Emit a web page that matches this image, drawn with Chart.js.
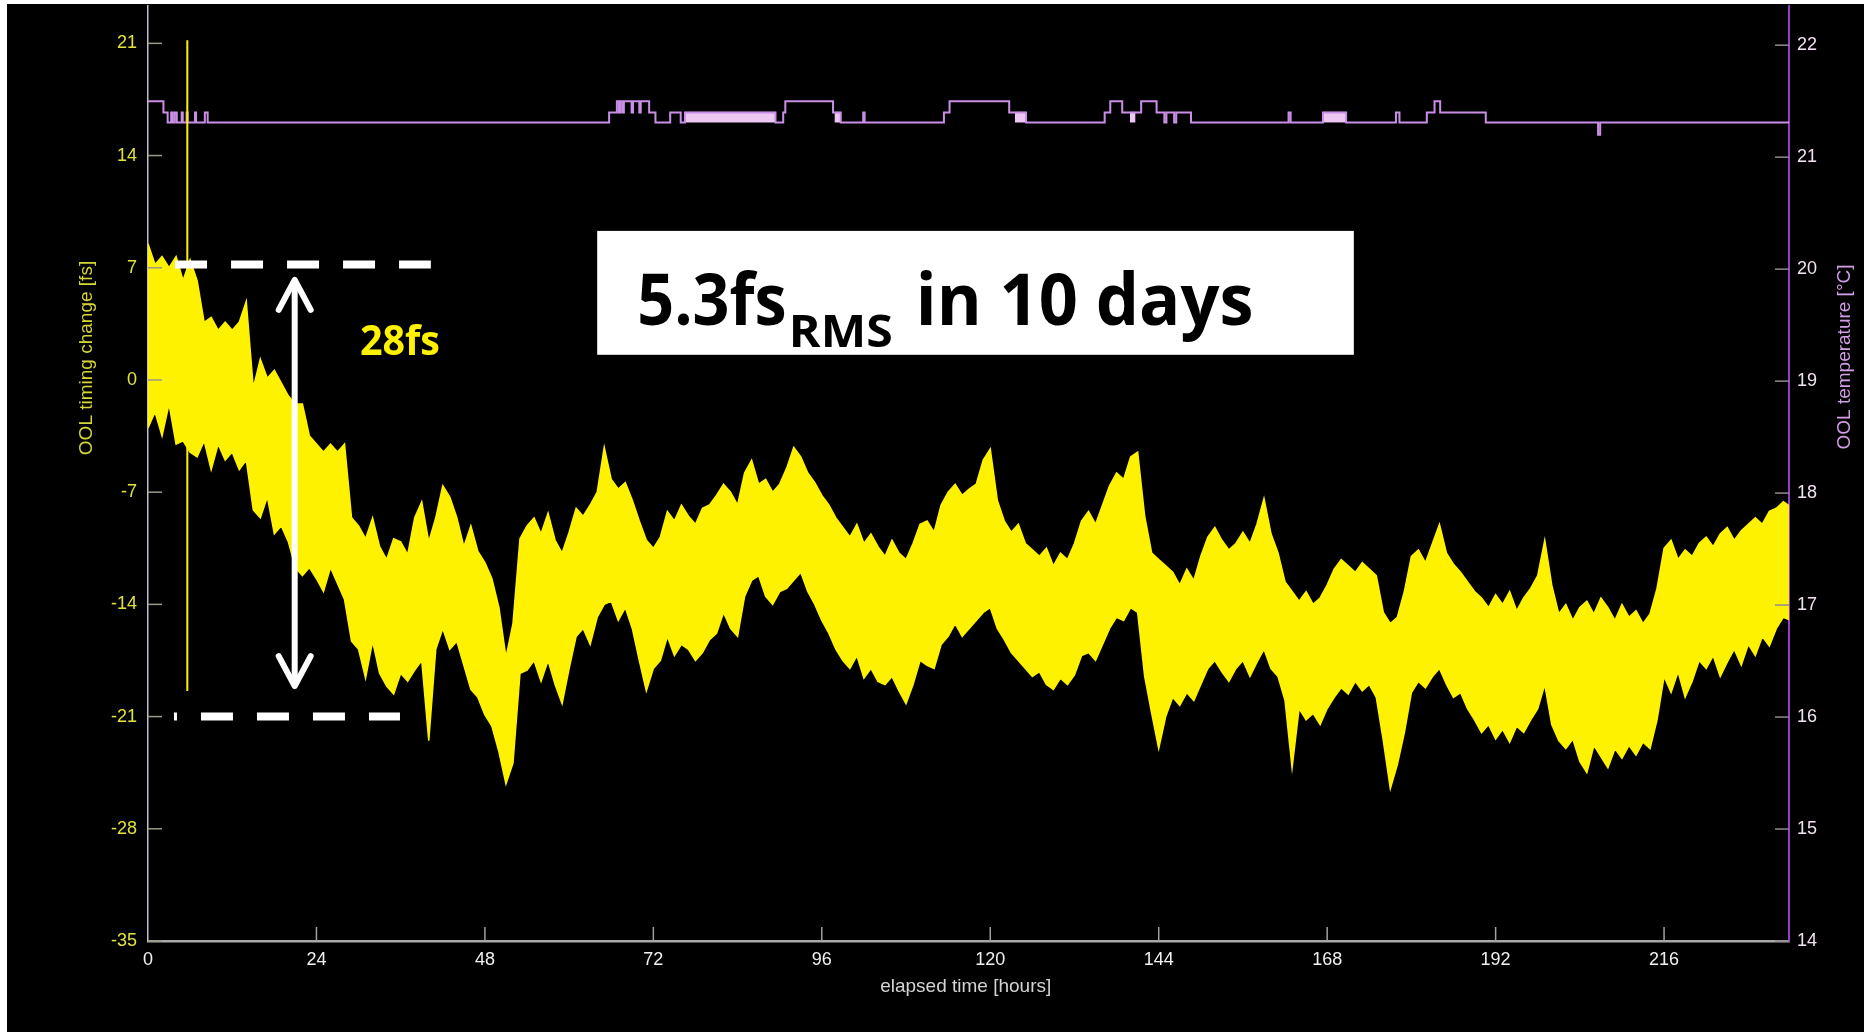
<!DOCTYPE html>
<html>
<head>
<meta charset="utf-8">
<script src="https://cdn.jsdelivr.net/npm/chart.js@4.4.1/dist/chart.umd.min.js"></script>
<style>
  html, body { margin: 0; padding: 0; background: #fff; width: 1864px; height: 1032px; overflow: hidden; }
  #frame { position: absolute; left: 7px; top: 4px; width: 1857px; height: 1028px; background: #000; }
  canvas { display: block; }
</style>
</head>
<body>
<div id="frame"><canvas id="chart" width="1857" height="1028"></canvas></div>
<script>
const hourTicks = [0, 24, 48, 72, 96, 120, 144, 168, 192, 216];
const timingTicks = [-35, -28, -21, -14, -7, 0, 7, 14, 21];
const tempTicks = [14, 15, 16, 17, 18, 19, 20, 21, 22];

// OOL timing trace, one reading per hour: upper and lower edge of the noisy band [fs]
const timingUpper = [
  8.5, 7.2, 7.7, 7.0, 7.7, 6.2, 7.5, 6.2, 3.6, 3.9,
  3.1, 3.6, 3.1, 3.6, 4.9, -0.5, 1.3, 0.1, 0.6, -0.2,
  -1.0, -1.5, -1.5, -3.5, -4.0, -4.5, -4.0, -4.5, -4.0, -8.6,
  -9.1, -9.9, -8.6, -10.4, -11.2, -9.9, -10.1, -10.9, -8.6, -7.6,
  -10.1, -8.6, -6.6, -7.3, -8.6, -10.4, -9.1, -10.7, -11.4, -12.4,
  -14.2, -17.3, -15.2, -9.9, -9.1, -8.6, -9.6, -8.3, -10.0, -10.8,
  -9.5, -8.0, -8.5, -7.8, -7.0, -4.2, -6.2, -6.8, -6.4, -7.5,
  -8.8, -10.0, -10.5, -9.8, -8.2, -8.8, -7.8, -8.5, -9.0, -8.0,
  -7.8, -7.2, -6.5, -7.0, -7.8, -5.8, -5.0, -6.5, -6.2, -7.0,
  -6.5, -5.5, -4.2, -4.8, -5.8, -6.4, -7.2, -7.8, -8.6, -9.2,
  -9.8, -9.0, -10.2, -9.6, -10.4, -11.0, -10.0, -10.8, -11.2, -10.2,
  -9.0, -8.8, -9.5, -7.8, -7.0, -6.5, -7.2, -6.8, -6.5, -5.0,
  -4.3, -7.5, -8.8, -9.5, -9.0, -10.2, -10.6, -11.0, -10.5, -11.6,
  -10.8, -11.2, -10.2, -8.8, -8.2, -9.0, -7.8, -6.6, -5.8, -6.2,
  -4.8, -4.5, -8.5, -10.8, -11.2, -11.6, -12.0, -12.8, -11.8, -12.5,
  -11.0, -9.8, -9.2, -10.0, -10.6, -10.2, -9.5, -10.2, -9.0, -7.4,
  -9.6, -10.8, -12.6, -13.2, -13.8, -13.2, -14.0, -13.6, -12.8, -11.8,
  -11.2, -11.6, -12.0, -11.4, -11.8, -12.2, -14.5, -15.2, -14.8, -13.2,
  -11.0, -10.6, -11.4, -10.2, -9.0, -10.8, -11.5, -12.0, -12.6, -13.2,
  -13.6, -14.2, -13.4, -14.0, -13.2, -14.4, -13.6, -13.0, -12.2, -10.0,
  -12.8, -14.6, -14.0, -15.0, -14.2, -13.8, -14.6, -13.6, -14.2, -15.0,
  -14.0, -14.8, -14.4, -15.2, -14.6, -13.0, -10.5, -10.0, -11.2, -10.6,
  -11.0, -10.2, -9.8, -10.4, -9.6, -9.2, -10.0, -9.4, -9.0, -8.6,
  -9.0, -8.2, -8.0, -7.6, -7.9
];
const timingLower = [
  -3.0, -2.0, -3.5, -1.5, -4.0, -3.8, -4.5, -4.8, -3.8, -5.6,
  -4.0, -5.0, -4.5, -5.6, -5.0, -8.1, -8.6, -7.3, -9.6, -9.1,
  -10.1, -11.7, -12.2, -11.7, -12.4, -13.2, -11.7, -12.7, -13.7, -16.3,
  -16.8, -18.6, -16.3, -18.3, -19.1, -19.6, -18.3, -18.8, -18.1, -17.5,
  -22.5, -16.8, -15.5, -16.8, -16.3, -17.8, -19.3, -19.8, -20.9, -21.6,
  -23.2, -25.2, -23.9, -18.3, -18.1, -17.5, -18.8, -17.5, -19.0, -20.2,
  -18.0, -16.0, -15.5, -16.5, -14.8, -14.0, -13.8, -15.0, -14.2, -15.5,
  -17.5, -19.4, -18.0, -17.5, -16.0, -17.2, -16.5, -16.8, -17.5, -17.0,
  -16.2, -15.8, -14.5, -15.5, -16.0, -13.5, -12.5, -12.2, -13.5, -14.0,
  -13.2, -13.0, -12.5, -12.0, -13.2, -14.0, -15.0, -15.8, -16.8, -17.5,
  -18.0, -17.2, -18.6, -18.0, -18.8, -19.0, -18.5, -19.4, -20.2, -19.0,
  -17.5, -17.8, -18.0, -16.5, -16.0, -15.2, -16.0, -15.5, -15.0, -14.5,
  -14.2, -15.5, -16.2, -17.0, -17.5, -18.0, -18.5, -18.2, -19.0, -19.3,
  -18.6, -19.0, -18.4, -17.2, -17.0, -17.5, -16.5, -15.5, -14.8, -15.0,
  -14.2, -14.5, -18.5, -20.8, -23.0, -21.0, -19.8, -20.3, -19.5, -20.0,
  -19.0, -18.0, -17.5, -18.2, -18.8, -18.0, -17.5, -18.5, -17.6, -16.8,
  -18.0, -18.5, -20.0, -24.2, -20.5, -21.2, -20.8, -21.5, -20.5, -19.8,
  -19.2, -19.6, -18.8, -19.4, -19.0, -19.8, -22.5, -25.5, -24.0, -22.0,
  -19.5, -18.8, -19.2, -18.5, -18.0, -19.0, -19.8, -19.5, -20.5, -21.2,
  -22.0, -21.5, -22.4, -21.8, -22.6, -21.6, -22.0, -21.2, -20.5, -19.0,
  -21.5, -22.5, -23.0, -22.4, -23.8, -24.5, -22.8, -23.5, -24.2, -23.0,
  -23.6, -22.8, -23.4, -22.6, -23.0, -21.2, -18.5, -19.5, -18.2, -19.8,
  -18.8, -17.5, -18.0, -17.2, -18.5, -17.6, -16.8, -17.8, -16.5, -17.2,
  -16.0, -16.6, -15.5, -14.8, -15.0
];

// single glitch in the timing trace
const glitchHours = [5.6, 5.6];
const glitchValues = [21.2, -19.4];

// OOL temperature, value taken from each hour on [°C]
const tempHours = [
  0, 2.2, 2.8, 3.3, 3.5, 3.8, 4.1, 4.8, 4.95, 5.5, 5.65, 6.7, 6.85, 8.1, 8.5,
  65.7, 66.8, 67.1, 67.3, 67.6, 67.8, 68.9, 69.1, 70.0, 70.2, 71.4, 72.3,
  74.4, 75.9, 76.5, 89.4,
  90.5, 90.8, 97.6, 98.7, 101.9, 102.1,
  113.4, 114.2, 122.7, 125.1,
  136.3, 137.1, 138.8, 141.5, 143.7, 144.8, 145.1, 146.2, 146.5, 148.6,
  162.5, 162.8, 167.4, 170.7, 177.8, 178.3,
  182.2, 183.3, 184.1, 190.6,
  206.6, 206.9, 233.8
];
const tempValues = [
  21.50, 21.40, 21.31, 21.40, 21.31, 21.40, 21.31, 21.40, 21.31, 21.40, 21.31, 21.40, 21.31, 21.40, 21.31,
  21.40, 21.50, 21.40, 21.50, 21.40, 21.50, 21.40, 21.50, 21.40, 21.50, 21.40, 21.31,
  21.40, 21.31, 21.40, 21.31,
  21.40, 21.50, 21.40, 21.31, 21.40, 21.31,
  21.40, 21.50, 21.40, 21.31,
  21.40, 21.50, 21.40, 21.50, 21.40, 21.31, 21.40, 21.31, 21.40, 21.31,
  21.40, 21.31, 21.40, 21.31, 21.40, 21.31,
  21.40, 21.50, 21.40, 21.31,
  21.20, 21.31, 21.31
];

// stretches where the temperature reading flickers between two levels
const flickerFrom = [76.5, 97.8, 123.5, 139.9, 167.4];
const flickerTo = [89.4, 98.6, 125.1, 140.7, 170.7];
const flickerTop = 21.40;
const flickerBase = 21.31;

const YELLOW = "#fff200";
const LABEL_FONT = "Liberation Sans, Arial, sans-serif";

const band = (arr) => arr.map((v, i) => ({ x: i, y: v }));
const pairs = (xs, ys) => xs.map((x, i) => ({ x, y: ys[i] }));

const flickerData = [];
flickerFrom.forEach((from, i) => {
  flickerData.push({ x: from, y: flickerTop }, { x: flickerTo[i], y: flickerTop }, { x: flickerTo[i], y: null });
});

function line(ctx, x1, y1, x2, y2) {
  ctx.beginPath();
  ctx.moveTo(x1, y1);
  ctx.lineTo(x2, y2);
  ctx.stroke();
}

function fitText(ctx, text, left, baseline, width) {
  const w = ctx.measureText(text).width;
  ctx.save();
  ctx.translate(left, baseline);
  ctx.scale(width / w, 1);
  ctx.fillText(text, 0, 0);
  ctx.restore();
}

// keep chart.js from reserving half-label room at the ends of each axis
function noPad(s) {
  s.paddingTop = 0; s.paddingBottom = 0; s.paddingLeft = 0; s.paddingRight = 0;
}

const decor = {
  id: "decor",
  afterDatasetsDraw(chart) {
    const { ctx, chartArea: a, scales: { x, y, y2 } } = chart;
    const px = (h) => x.getPixelForValue(h);
    const py = (v) => y.getPixelForValue(v);
    ctx.save();

    // inward tick marks, matlab style
    ctx.lineWidth = 1.5;
    ctx.strokeStyle = "#9a9a86";
    y.ticks.forEach(t => line(ctx, a.left, py(t.value), a.left + 14, py(t.value)));
    ctx.strokeStyle = "#8c8c8c";
    y2.ticks.forEach(t => line(ctx, a.right - 14, y2.getPixelForValue(t.value), a.right, y2.getPixelForValue(t.value)));
    ctx.strokeStyle = "#a0a0a0";
    x.ticks.forEach(t => { if (t.value > 0) line(ctx, px(t.value), a.bottom, px(t.value), a.bottom - 14); });

    // axis titles
    ctx.font = `19px ${LABEL_FONT}`;
    ctx.textAlign = "center";
    ctx.textBaseline = "middle";
    ctx.fillStyle = "#d6d636";
    ctx.save(); ctx.translate(a.left - 61, 354); ctx.rotate(-Math.PI / 2); ctx.fillText("OOL timing change [fs]", 0, 0); ctx.restore();
    ctx.fillStyle = "#d49ee6";
    ctx.save(); ctx.translate(a.right + 56, 353); ctx.rotate(-Math.PI / 2); ctx.fillText("OOL temperature [°C]", 0, 0); ctx.restore();
    ctx.fillStyle = "#d4d4d4";
    ctx.fillText("elapsed time [hours]", px(116.5), a.bottom + 46);

    // dashed range markers
    ctx.strokeStyle = "#fff";
    ctx.lineWidth = 8;
    ctx.setLineDash([32, 24]);
    line(ctx, px(3.85), py(7.2), px(40.3), py(7.2));
    ctx.lineDashOffset = 29;
    line(ctx, px(3.7), py(-21), px(35.9), py(-21));
    ctx.setLineDash([]);
    ctx.lineDashOffset = 0;

    // double arrow
    const ax = px(20.9), top = py(6.24), bot = py(-19.1);
    ctx.lineWidth = 6;
    ctx.lineCap = "round";
    ctx.lineJoin = "round";
    line(ctx, ax, top + 3, ax, bot - 3);
    ctx.beginPath();
    ctx.moveTo(ax - 16, top + 30); ctx.lineTo(ax, top); ctx.lineTo(ax + 16, top + 30);
    ctx.moveTo(ax - 16, bot - 30); ctx.lineTo(ax, bot); ctx.lineTo(ax + 16, bot - 30);
    ctx.stroke();

    ctx.textAlign = "left";
    ctx.textBaseline = "alphabetic";
    ctx.fillStyle = YELLOW;
    ctx.font = 'bold 42px "Open Sans"';
    fitText(ctx, "28fs", px(30.2), py(1.57), px(41.6) - px(30.2));

    // RMS box
    ctx.fillStyle = "#fff";
    ctx.fillRect(px(64.0), py(9.3), px(171.8) - px(64.0), py(1.57) - py(9.3));
    ctx.fillStyle = "#000";
    ctx.font = 'bold 72px "Open Sans"';
    fitText(ctx, "5.3fs", px(69.7), py(3.44), px(91.0) - px(69.7));
    fitText(ctx, "in 10 days", px(109.4), py(3.44), px(157.5) - px(109.4));
    ctx.font = 'bold 44px "Open Sans"';
    fitText(ctx, "RMS", px(91.3), py(2.07), px(106.1) - px(91.3));

    ctx.restore();
  }
};

new Chart(document.getElementById("chart"), {
  type: "line",
  data: {
    datasets: [
      { data: pairs(glitchHours, glitchValues), borderColor: YELLOW, borderWidth: 2, pointRadius: 0, yAxisID: "y" },
      { data: band(timingUpper), borderColor: YELLOW, borderWidth: 1.5, pointRadius: 0, tension: 0, yAxisID: "y" },
      { data: band(timingLower), borderColor: YELLOW, backgroundColor: YELLOW, borderWidth: 1.5, pointRadius: 0, tension: 0, fill: "-1", yAxisID: "y" },
      { data: pairs(tempHours, tempValues), borderColor: "#c98fe6", borderWidth: 2, pointRadius: 0, stepped: "before", yAxisID: "y2" },
      { data: flickerData, borderColor: "#eec6f2", backgroundColor: "#eec6f2", borderWidth: 1, pointRadius: 0, fill: { value: flickerBase }, spanGaps: false, yAxisID: "y2" },
    ],
  },
  options: {
    animation: false,
    responsive: false,
    events: [],
    layout: { padding: { top: 2, left: 0, right: 0, bottom: 0 } },
    plugins: { legend: { display: false }, tooltip: { enabled: false } },
    scales: {
      x: {
        type: "linear", position: "bottom", min: 0, max: 233.8,
        grid: { display: false, drawTicks: false },
        border: { display: true, color: "#a8a8a8", width: 2.5 },
        ticks: { color: "#f0f0f0", font: { family: LABEL_FONT, size: 18 }, padding: 8, maxRotation: 0, autoSkip: false },
        afterBuildTicks: s => { s.ticks = hourTicks.map(v => ({ value: v })); },
        afterFit: s => { s.height = 91; noPad(s); },
      },
      y: {
        type: "linear", position: "left", min: -35, max: 23.33,
        grid: { display: false, drawTicks: false },
        border: { display: true, color: "#c4bfcc", width: 1.5 },
        ticks: { color: "#e2e23c", font: { family: LABEL_FONT, size: 18 }, padding: 11, autoSkip: false },
        afterBuildTicks: s => { s.ticks = timingTicks.map(v => ({ value: v })); },
        afterFit: s => { s.width = 141; noPad(s); },
      },
      y2: {
        type: "linear", position: "right", min: 14, max: 22.35,
        grid: { display: false, drawTicks: false },
        border: { display: true, color: "#9440c4", width: 2 },
        ticks: { color: "#f2e2f2", font: { family: LABEL_FONT, size: 18 }, padding: 8, autoSkip: false },
        afterBuildTicks: s => { s.ticks = tempTicks.map(v => ({ value: v })); },
        afterFit: s => { s.width = 75; noPad(s); },
      },
    },
  },
  plugins: [decor],
});
</script>
</body>
</html>
